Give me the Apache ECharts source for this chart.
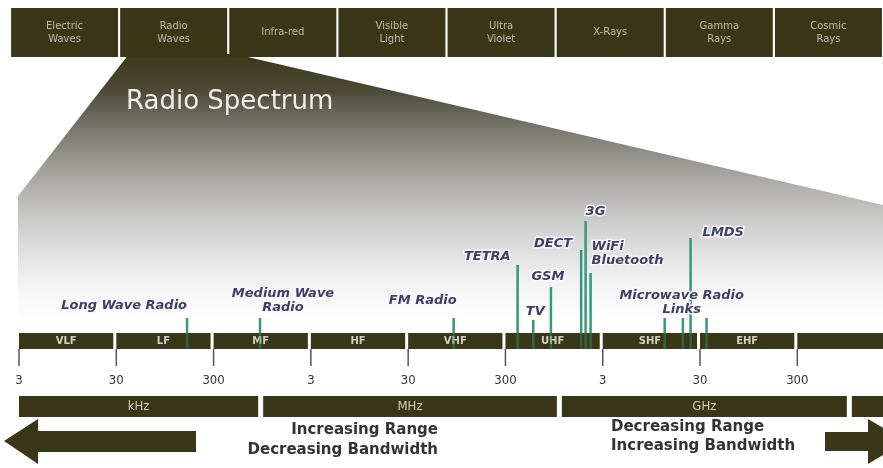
<!DOCTYPE html>
<html>
<head>
<meta charset="utf-8">
<script src="https://cdn.jsdelivr.net/npm/echarts@6/dist/echarts.min.js"></script>
<style>
  html, body { margin: 0; padding: 0; background: #fff; }
  #chart { width: 883px; height: 468px; }
</style>
</head>
<body>
<div id="chart"></div>
<script>
// electromagnetic spectrum strip along the top
const spectrumNames = ['Electric\nWaves', 'Radio\nWaves', 'Infra-red', 'Visible\nLight', 'Ultra\nViolet', 'X-Rays', 'Gamma\nRays', 'Cosmic\nRays'];

// radio bands (edges in Hz)
const bandNames = ['VLF', 'LF', 'MF', 'HF', 'VHF', 'UHF', 'SHF', 'EHF', ''];
const bandEdges = [3e3, 3e4, 3e5, 3e6, 3e7, 3e8, 3e9, 3e10, 3e11, 3e12];

// scale ticks
const tickFreqs = [3e3, 3e4, 3e5, 3e6, 3e7, 3e8, 3e9, 3e10, 3e11];
const tickLabels = ['3', '30', '300', '3', '30', '300', '3', '30', '300'];

// unit bar (edges in Hz, as drawn)
const unitNames = ['kHz', 'MHz', 'GHz', ''];
const unitEdges = [3e3, 9.7e5, 1.14e9, 1.09e12, 1e13];

// services
const serviceNames = ['Long Wave Radio', 'Medium Wave\nRadio', 'FM Radio', 'TETRA', 'TV', 'GSM', 'DECT', '3G', 'WiFi\nBluetooth', 'Microwave Radio\nLinks', 'LMDS'];
// one marker line per entry: frequency (Hz), height, service index
const lineFreqs = [160e3, 900e3, 88e6, 400e6, 580e6, 880e6, 1.8e9, 2.0e9, 2.25e9, 13e9, 20e9, 24e9, 35e9];
const lineHeights = [15, 15, 15, 68, 13, 46, 83, 112, 60, 15, 15, 95, 15];
const lineService = [0, 1, 2, 3, 4, 5, 6, 7, 8, 9, 9, 10, 9];

// label placement relative to the top of the service's first line (px)
const labelLayout = [
  { dx: 0, dy: -12, align: 'right' },
  { dx: 23, dy: -17, align: 'center' },
  { dx: 3, dy: -17, align: 'right' },
  { dx: -7, dy: -8, align: 'right' },
  { dx: 2, dy: -8, align: 'center' },
  { dx: -3, dy: -10, align: 'center' },
  { dx: -9, dy: -6, align: 'right' },
  { dx: 0, dy: -9, align: 'left' },
  { dx: 1, dy: -19, align: 'left' },
  { dx: 17, dy: -15, align: 'center' },
  { dx: 12, dy: -5, align: 'left' }
];

const DARK = '#3a3618';
const GREEN = '#34987a';
const BAND_H = 16;

const chart = echarts.init(document.getElementById('chart'));

const bandData = bandNames.map((n, i) => [bandEdges[i], bandEdges[i + 1]]);
const unitData = unitNames.map((n, i) => [unitEdges[i], unitEdges[i + 1]]);
const serviceData = serviceNames.map((n, i) => {
  const li = lineService.indexOf(i);
  return [lineFreqs[li], lineHeights[li]];
});

function barRender(names, y0, y1, gap, font, color) {
  return function (params, api) {
    const p0 = api.coord([api.value(0), y0]);
    const p1 = api.coord([api.value(1), y1]);
    const w = p1[0] - p0[0] - gap;
    return {
      type: 'group',
      children: [
        { type: 'rect', shape: { x: p0[0], y: p0[1], width: w, height: p1[1] - p0[1] }, style: { fill: DARK } },
        {
          type: 'text',
          style: {
            text: names[params.dataIndex], x: p0[0] + w / 2, y: (p0[1] + p1[1]) / 2,
            align: 'center', verticalAlign: 'middle', fill: color, font: font
          }
        }
      ]
    };
  };
}

const option = {
  backgroundColor: '#fff',
  animation: false,
  title: {
    text: 'Radio Spectrum',
    left: 121,
    top: 84,
    textStyle: { color: '#eeeeea', fontSize: 26, fontWeight: 'normal', fontFamily: '"DejaVu Sans", sans-serif' }
  },
  graphic: [
    {
      type: 'polygon',
      z: 0,
      shape: { points: [[129, 54], [235, 54], [883, 205], [883, 333], [18, 333], [18, 196]] },
      style: {
        fill: new echarts.graphic.LinearGradient(0, 0, 0, 1, [
          { offset: 0, color: '#3a3818' },
          { offset: 0.13, color: '#4c4a36' },
          { offset: 0.27, color: '#7a786e' },
          { offset: 0.45, color: '#aaa9a6' },
          { offset: 0.63, color: '#d2d2d2' },
          { offset: 0.81, color: '#f1f1f1' },
          { offset: 0.95, color: '#ffffff' }
        ])
      }
    },
    {
      type: 'polygon',
      shape: { points: [[4, 441], [38, 419], [38, 431], [196, 431], [196, 452], [38, 452], [38, 464]] },
      style: { fill: DARK }
    },
    {
      type: 'polygon',
      shape: { points: [[825, 432], [868, 432], [868, 419], [906, 441], [868, 464], [868, 451], [825, 451]] },
      style: { fill: DARK }
    },
    {
      type: 'text',
      style: {
        text: 'Increasing Range\nDecreasing Bandwidth', x: 438, y: 440, align: 'right', verticalAlign: 'middle',
        fill: '#333333', font: 'bold 15px "DejaVu Sans", sans-serif', lineHeight: 20
      }
    },
    {
      type: 'text',
      style: {
        text: 'Decreasing Range\nIncreasing Bandwidth', x: 611, y: 437, align: 'left', verticalAlign: 'middle',
        fill: '#333333', font: 'bold 15px "DejaVu Sans", sans-serif', lineHeight: 19
      }
    }
  ],
  grid: [
    { left: 0, right: 0, top: 200, bottom: 48 },
    { left: 10, right: -15, top: 8, height: 49 }
  ],
  xAxis: [
    { type: 'log', gridIndex: 0, min: 1913, max: 2.28e12, show: false },
    { type: 'category', gridIndex: 1, data: spectrumNames, show: false }
  ],
  yAxis: [
    { type: 'value', gridIndex: 0, min: -87, max: 133, show: false },
    { type: 'value', gridIndex: 1, min: 0, max: 1, show: false }
  ],
  series: [
    {
      type: 'bar',
      xAxisIndex: 1,
      yAxisIndex: 1,
      data: spectrumNames.map(() => 1),
      barWidth: 107,
      itemStyle: { color: DARK },
      label: {
        show: true, position: 'inside', formatter: '{b}',
        color: '#c2bfab', fontSize: 10, lineHeight: 13, fontFamily: '"DejaVu Sans", sans-serif'
      }
    },
    {
      type: 'custom',
      data: bandData,
      encode: { x: [0, 1] },
      renderItem: barRender(bandNames, 0, -BAND_H, 3, 'bold 10px "DejaVu Sans", sans-serif', '#d2d0c4')
    },
    {
      type: 'custom',
      data: unitData,
      encode: { x: [0, 1] },
      renderItem: barRender(unitNames, -63, -84, 5, '13px "DejaVu Sans Condensed", "DejaVu Sans", sans-serif', '#cfcdc0')
    },
    {
      type: 'custom',
      data: tickFreqs.map(f => [f]),
      encode: { x: 0 },
      renderItem: function (params, api) {
        const a = api.coord([api.value(0), -BAND_H]);
        const b = api.coord([api.value(0), -33]);
        const t = api.coord([api.value(0), -48]);
        return {
          type: 'group',
          children: [
            { type: 'line', shape: { x1: a[0], y1: a[1], x2: b[0], y2: b[1] }, style: { stroke: '#555', lineWidth: 1.5 } },
            {
              type: 'text',
              style: {
                text: tickLabels[params.dataIndex], x: t[0], y: t[1], align: 'center', verticalAlign: 'middle',
                fill: '#333', font: '13px "DejaVu Sans Condensed", "DejaVu Sans", sans-serif'
              }
            }
          ]
        };
      }
    },
    {
      type: 'custom',
      data: lineFreqs.map((f, i) => [f, lineHeights[i]]),
      encode: { x: 0, y: 1 },
      renderItem: function (params, api) {
        const bottom = api.coord([api.value(0), -BAND_H]);
        const base = api.coord([api.value(0), 0]);
        const top = api.coord([api.value(0), api.value(1)]);
        return {
          type: 'group',
          children: [
            { type: 'line', shape: { x1: bottom[0], y1: bottom[1], x2: base[0], y2: base[1] }, style: { stroke: GREEN, lineWidth: 2.5, opacity: 0.45 } },
            { type: 'line', shape: { x1: base[0], y1: base[1], x2: top[0], y2: top[1] }, style: { stroke: GREEN, lineWidth: 2.5 } }
          ]
        };
      }
    },
    {
      type: 'custom',
      data: serviceData,
      encode: { x: 0, y: 1 },
      z: 5,
      renderItem: function (params, api) {
        const p = api.coord([api.value(0), api.value(1)]);
        const l = labelLayout[params.dataIndex];
        return {
          type: 'text',
          style: {
            text: serviceNames[params.dataIndex], x: p[0] + l.dx, y: p[1] + l.dy,
            align: l.align, verticalAlign: 'middle', fill: '#3e3e6a', lineHeight: 14,
            stroke: 'rgba(248,248,248,0.9)', lineWidth: 3,
            font: 'italic bold 13px "DejaVu Sans", sans-serif'
          }
        };
      }
    }
  ]
};

chart.setOption(option);
</script>
</body>
</html>
